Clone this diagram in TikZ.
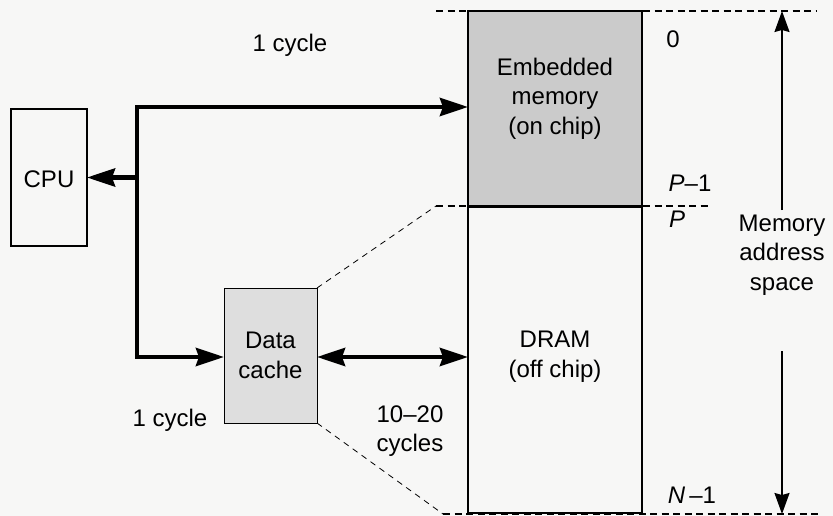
\documentclass[tikz,border=0pt]{standalone}
\usepackage{fontspec}
\setmainfont{Liberation Sans}
\usetikzlibrary{arrows.meta}
\definecolor{paper}{HTML}{F7F7F6}
\definecolor{embfill}{HTML}{CBCBCB}
\definecolor{cachefill}{HTML}{DEDEDE}
\tikzset{
  txt/.style={font=\fontsize{24}{29.5}\selectfont, inner sep=0pt, align=center},
  box/.style={draw, line width=1.4pt, inner sep=0pt, outer sep=0pt},
  bus/.style={line width=4.5pt, line join=miter},
  bustip/.tip={Stealth[length=28pt 0, width=18pt 0, inset=3pt 0]},
  addrtip/.tip={Stealth[length=21pt 0, width=15pt 0, inset=2pt 0]},
  bound/.style={line width=1.6pt, dash pattern=on 7pt off 4.5pt},
  fan/.style={line width=0.8pt, dash pattern=on 6pt off 5pt},
}
\begin{document}
\begin{tikzpicture}[x=1pt, y=-1pt]
  \useasboundingbox (0,0) rectangle (833,516);
  \fill[paper] (0,0) rectangle (833,516);

  % blocks
  \node[box, minimum width=76pt, minimum height=137pt] (cpu) at (49,177.5) {};
  \node[box, fill=embfill, minimum width=174pt, minimum height=195pt] (emb) at (555,108.5) {};
  \node[box, minimum width=174pt, minimum height=306pt] (dram) at (555,360) {};
  \node[box, fill=cachefill, line width=1pt, minimum width=93pt, minimum height=135pt] (cache) at (270.5,355.5) {};

  % block texts
  \node[txt, anchor=base] (cputxt) at (49,187) {CPU};
  \node[txt] (embtxt) at (555,98.5) {Embedded\\memory\\(on chip)};
  \node[txt] (dramtxt) at (555,356.5) {DRAM\\(off chip)};
  \node[txt] (cachetxt) at (270.5,355.5) {Data\\cache};

  % bus junctions
  \coordinate (jt) at (137,107);
  \coordinate (jm) at (137,177.5);
  \coordinate (jb) at (137,357);

  % processor bus
  \draw[bus, {bustip}-{bustip}] (emb.west |- jt) -- (jt) -- (jb) -- (cache.west |- jb);
  \draw[bus, -{bustip}] (jm) -- (cpu.east);
  \draw[bus, {bustip}-{bustip}] (cache.east |- jb) -- (dram.west |- jb);

  % address space boundaries
  \coordinate (b0l) at (436,11);   \coordinate (b0r) at (817,11);
  \coordinate (bPl) at (436,206);  \coordinate (bPr) at (712,206);
  \coordinate (bNl) at (443,514);  \coordinate (bNr) at (822,514);
  \draw[bound] (b0l) -- (b0r);
  \draw[bound] (bPl) -- (bPr);
  \draw[bound] (bNl) -- (bNr);

  % cache mapping fan
  \draw[fan] (cache.north east) -- (bPl);
  \draw[fan] (cache.south east) -- (bNl);

  % memory address space extent
  \coordinate (aup) at (782,210);
  \coordinate (atop) at (782,11);
  \coordinate (adn) at (782,351);
  \coordinate (abot) at (782,514);
  \draw[line width=1.7pt, -{addrtip}] (aup) -- (atop);
  \draw[line width=1.7pt, -{addrtip}] (adn) -- (abot);
  \node[txt] (addrtxt) at (782,255) {Memory\\address\\space};

  % addresses
  \node[txt, anchor=base] (a0) at (673,48) {0};
  \node[txt, anchor=base] (aP1) at (690,191) {\textit{P}–1};
  \node[txt, anchor=base] (aP) at (677,227) {\textit{P}};
  \node[txt, anchor=base] (aN1) at (692,503) {\textit{N}\,–1};

  % latencies
  \node[txt, anchor=base] (lat1) at (290,52) {1 cycle};
  \node[txt, anchor=base] (lat2) at (170,426) {1 cycle};
  \node[txt] (lat3) at (410,431) {10–20\\cycles};
\end{tikzpicture}
\end{document}
